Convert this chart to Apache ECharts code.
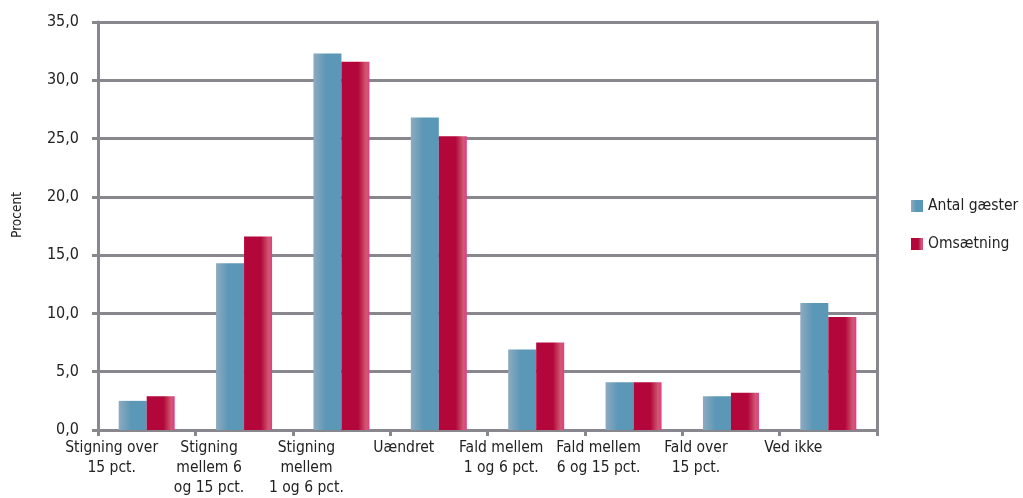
<!DOCTYPE html>
<html><head><meta charset="utf-8">
<script src="https://cdn.jsdelivr.net/npm/echarts@6/dist/echarts.min.js"></script>
<style>html,body{margin:0;padding:0;background:#fff}#c{width:1023px;height:498px}</style>
</head><body><div id="c"></div>
<script>
const categories = ["Stigning over\n15 pct.", "Stigning\nmellem 6\nog 15 pct.", "Stigning\nmellem\n1 og 6 pct.", "Uændret", "Fald mellem\n1 og 6 pct.", "Fald mellem\n6 og 15 pct.", "Fald over\n15 pct.", "Ved ikke"];
const antalGaester = [2.5, 14.3, 32.3, 26.8, 6.9, 4.1, 2.9, 10.9];
const omsaetning = [2.9, 16.6, 31.6, 25.2, 7.5, 4.1, 3.2, 9.7];
const seriesNames = ["Antal gæster", "Omsætning"];

const font = "'Liberation Sans Narrow', 'DejaVu Sans Condensed', sans-serif";
const gridColor = '#87878d';
const blueGrad = new echarts.graphic.LinearGradient(0,0,1,0,[{offset:0,color:'#8eaac0'},{offset:0.45,color:'#5b97b6'},{offset:1,color:'#5b97b6'}]);
const redGrad = new echarts.graphic.LinearGradient(0,0,1,0,[{offset:0,color:'#b3063b'},{offset:0.6,color:'#b3063b'},{offset:0.88,color:'#cf5a72'},{offset:1,color:'#e8388a'}]);

const chart = echarts.init(document.getElementById('c'));
chart.setOption({
  animation:false,
  backgroundColor:'#fff',
  grid:{left:98,right:146,top:22,bottom:68,containLabel:false},
  legend:{
    orient:'vertical', left:906, top:193, itemWidth:12, itemHeight:12, itemGap:22,
    icon:'rect',
    textStyle:{fontFamily:font,fontSize:15.5,color:'#222'},
    data:seriesNames
  },
  xAxis:{
    type:'category', data:categories,
    axisLine:{lineStyle:{color:gridColor,width:3}},
    axisTick:{show:true,length:6,lineStyle:{color:gridColor,width:3},alignWithLabel:false},
    axisLabel:{fontFamily:font,fontSize:15.5,color:'#222',lineHeight:20,margin:8,align:'center',padding:[0,70,0,0],interval:0}
  },
  yAxis:[{
    type:'value', min:0, max:35, interval:5,
    name:'Procent', nameLocation:'middle', nameGap:74, nameRotate:90,
    nameTextStyle:{fontFamily:font,fontSize:13.5,color:'#222',padding:[0,0,0,22]},
    axisLine:{show:true,lineStyle:{color:gridColor,width:3}},
    axisTick:{show:true,length:6,lineStyle:{color:gridColor,width:3}},
    splitLine:{lineStyle:{color:gridColor,width:3}},
    axisLabel:{fontFamily:font,fontSize:16,color:'#222',margin:19,formatter:v=>v.toFixed(1).replace('.',',')}
  },{
    type:'value', min:0, max:35, interval:5, position:'right',
    axisLine:{show:true,lineStyle:{color:gridColor,width:3}},
    axisTick:{show:false}, axisLabel:{show:false}, splitLine:{show:false}
  }],
  series:[
    {name:seriesNames[0],type:'bar',data:antalGaester,barWidth:28,barGap:'0%',itemStyle:{color:blueGrad}},
    {name:seriesNames[1],type:'bar',data:omsaetning,barWidth:28,barGap:'0%',itemStyle:{color:redGrad}}
  ]
});
</script></body></html>
